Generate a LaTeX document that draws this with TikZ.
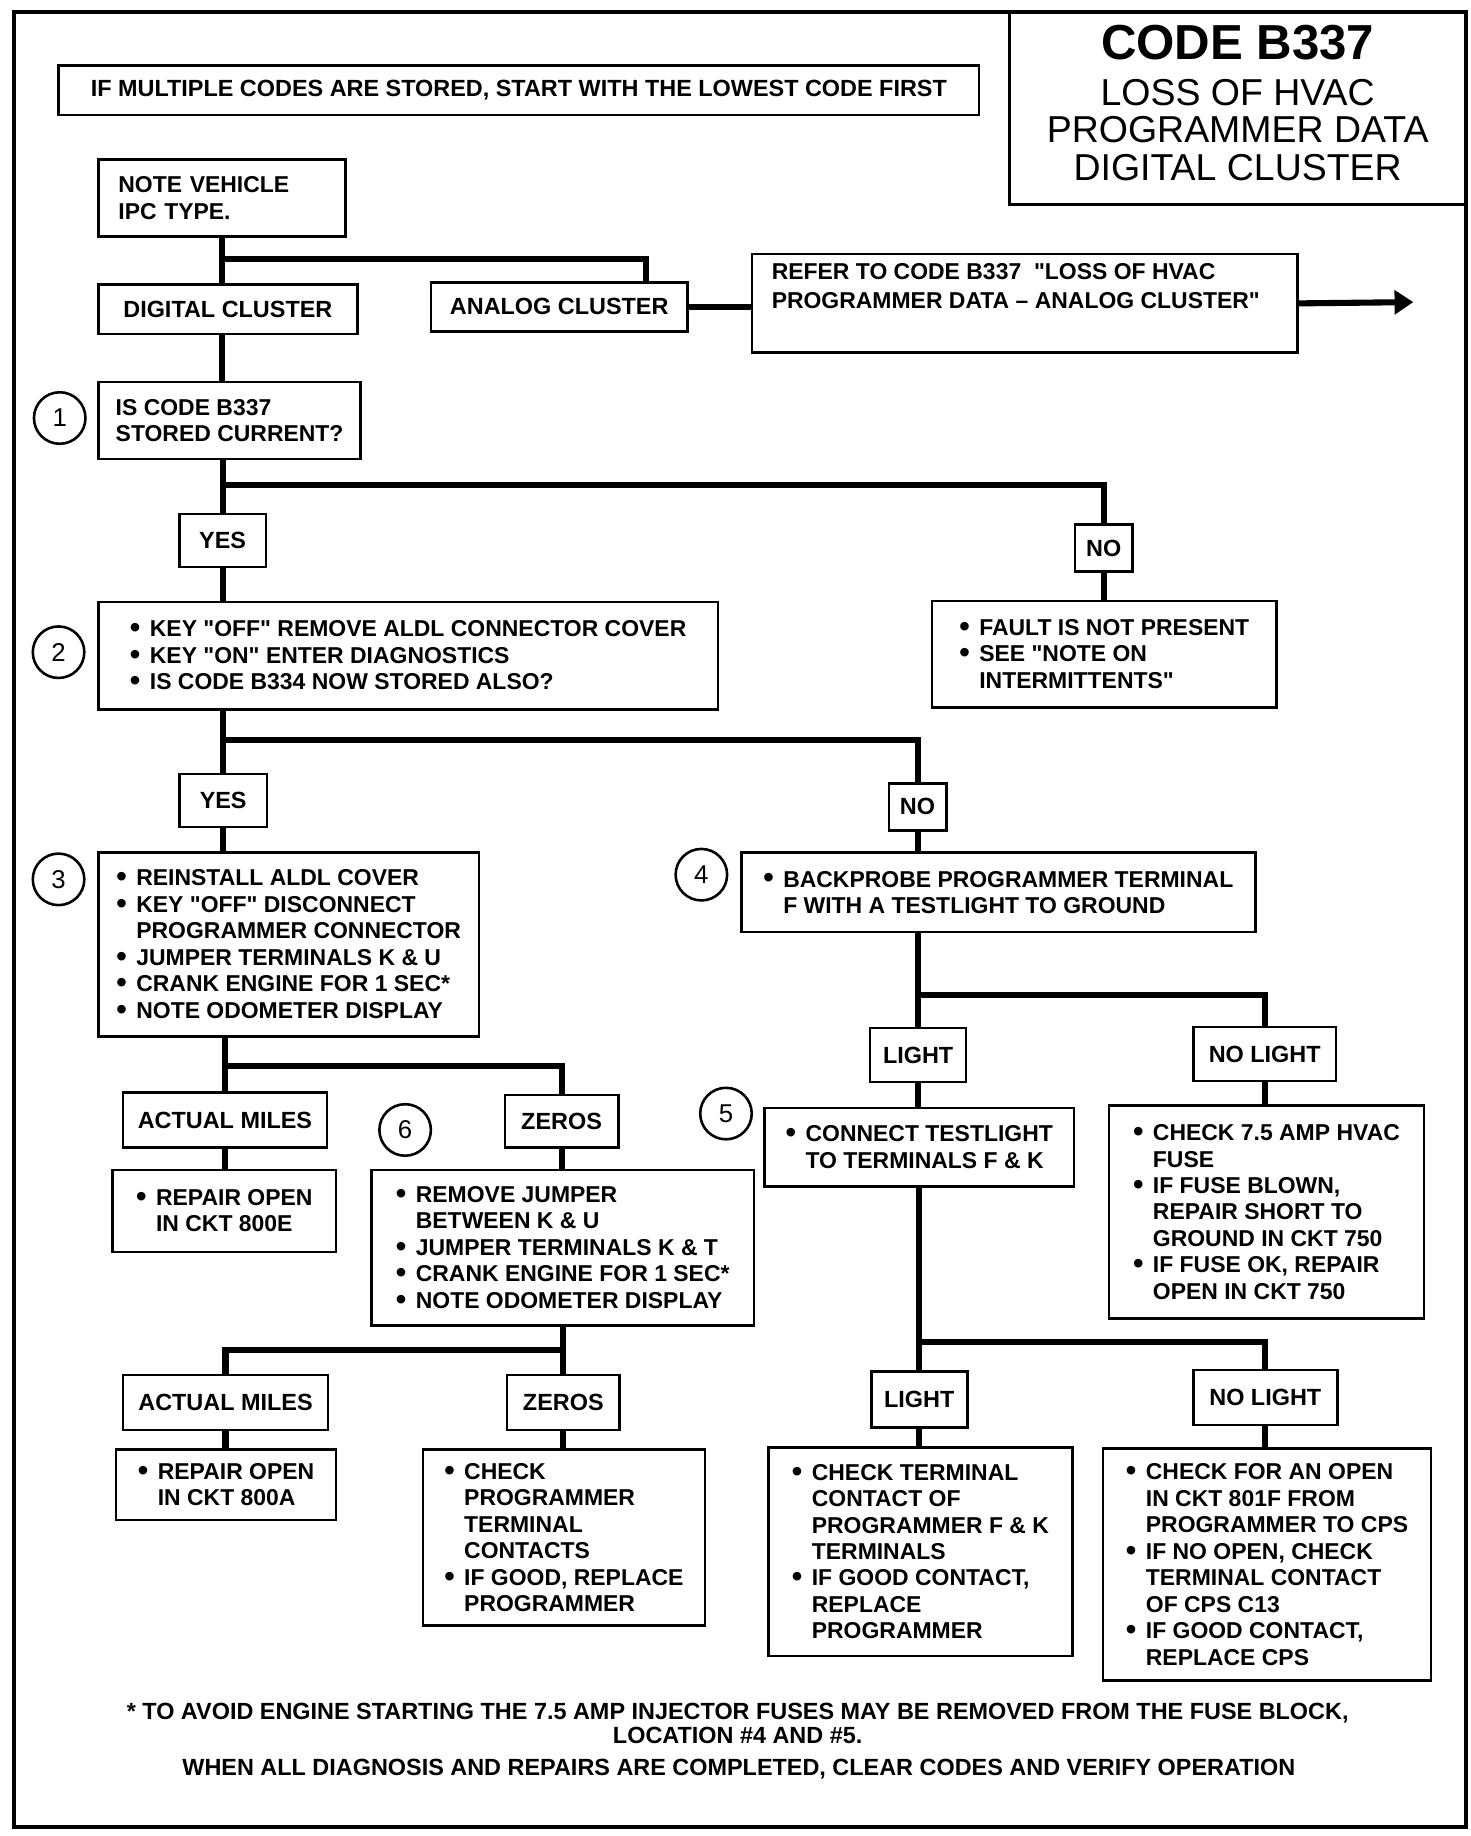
\documentclass[tikz,border=0pt]{standalone}
\usepackage{fontspec}
\usepackage{graphicx}
\setmainfont{Liberation Sans}
\usetikzlibrary{arrows.meta}
\newcommand\bul{\makebox[8.5pt][l]{\raisebox{-0.4pt}{\scalebox{1.3}{\textbullet}}}}
\newcommand\ind{\hspace*{8.5pt}}
\newcommand\qt{\textquotedbl}
\tikzset{
    frame/.style={line width=1.8pt},
    box/.style={draw, line width=1.1pt, anchor=north west, align=left, inner sep=0pt, font=\fontsize{9.8}{11.3}\selectfont\bfseries},
    tag/.style={draw, line width=1.1pt, anchor=north west, inner sep=0pt, font=\fontsize{10}{11.3}\selectfont\bfseries},
    wire/.style={line width=2.6pt},
    stepnum/.style={circle, draw, line width=1.1pt, minimum size=22pt, inner sep=0pt, font=\fontsize{11}{11}\selectfont},
}
\begin{document}
\begin{tikzpicture}[x=0.5pt,y=-0.5pt]
                \useasboundingbox (0,0) rectangle (1256,1568);
                \draw[frame] (12,10) rectangle (1252,1560);
                \draw[line width=1.3pt] (862,10) rectangle (1252,175);
                \node[font=\fontsize{21}{21}\selectfont\bfseries] (tcode) at (1057,36) {CODE B337};
                \node[align=center, font=\fontsize{16}{16}\selectfont] (tsub) at (1057,111) {LOSS OF HVAC\\PROGRAMMER DATA\\DIGITAL CLUSTER};
                \node[box, align=center, minimum width=393pt, minimum height=21pt, font=\fontsize{10}{11.3}\selectfont\bfseries] (first) at (49,55) {IF MULTIPLE CODES ARE STORED, START WITH THE LOWEST CODE FIRST};
                \node[box, text width=88.5pt, inner xsep=8.5pt, minimum height=33pt] (note) at (83,135) {NOTE VEHICLE\\IPC TYPE.};
                \node[tag, minimum width=110.5pt, minimum height=21pt] (digital) at (83,242) {DIGITAL CLUSTER};
                \node[tag, minimum width=109.5pt, minimum height=21pt] (analog) at (367,240) {ANALOG CLUSTER};
                \node[box, minimum width=233pt, minimum height=42pt] (refer) at (641,216) {\parbox[c][34pt][t]{216pt}{\baselineskip=12.5pt REFER TO CODE B337\ \ \qt LOSS OF HVAC\\PROGRAMMER DATA -- ANALOG CLUSTER\qt}};
                \node[box, minimum width=112pt, minimum height=33pt] (q1) at (83,325) {IS CODE B337\\STORED CURRENT?};
                \node[tag, minimum width=37pt, minimum height=22.5pt] (yesA) at (152,438) {YES};
                \node[tag, minimum width=24.5pt, minimum height=20pt] (noA) at (917,447) {NO};
                \node[box, minimum width=264.5pt, minimum height=46pt] (q2) at (83,513) {\bul KEY \qt OFF\qt\ REMOVE ALDL CONNECTOR COVER\\\bul KEY \qt ON\qt\ ENTER DIAGNOSTICS\\\bul IS CODE B334 NOW STORED ALSO?};
                \node[box, minimum width=147pt, minimum height=45.5pt] (fault) at (795,512) {\bul FAULT IS NOT PRESENT\\\bul SEE \qt NOTE ON\\\ind INTERMITTENTS\qt};
                \node[tag, minimum width=37.5pt, minimum height=22.5pt] (yesB) at (152,660) {YES};
                \node[tag, minimum width=24.5pt, minimum height=20pt] (noB) at (758,668) {NO};
                \node[box, minimum width=162.5pt, minimum height=78.5pt] (s3) at (83,727) {\bul REINSTALL ALDL COVER\\\bul KEY \qt OFF\qt\ DISCONNECT\\\ind PROGRAMMER CONNECTOR\\\bul JUMPER TERMINALS K \& U\\\bul CRANK ENGINE FOR 1 SEC*\\\bul NOTE ODOMETER DISPLAY};
                \node[box, minimum width=219.5pt, minimum height=34pt] (s4) at (632,727) {\bul BACKPROBE PROGRAMMER TERMINAL\\\ind F WITH A TESTLIGHT TO GROUND};
                \node[tag, minimum width=87pt, minimum height=23.5pt] (milesA) at (104,932) {ACTUAL MILES};
                \node[tag, minimum width=48.5pt, minimum height=22.5pt] (zerosA) at (430,934) {ZEROS};
                \node[box, minimum width=95.5pt, minimum height=35pt] (open800E) at (95,998) {\bul REPAIR OPEN\\\ind IN CKT 800E};
                \node[box, minimum width=163.5pt, minimum height=66.5pt] (s6) at (316,998) {\bul REMOVE JUMPER\\\ind BETWEEN K \& U\\\bul JUMPER TERMINALS K \& T\\\bul CRANK ENGINE FOR 1 SEC*\\\bul NOTE ODOMETER DISPLAY};
                \node[tag, minimum width=87.5pt, minimum height=23.5pt] (milesB) at (104,1173) {ACTUAL MILES};
                \node[tag, minimum width=48pt, minimum height=23.5pt] (zerosB) at (432,1173) {ZEROS};
                \node[box, minimum width=94pt, minimum height=30pt] (open800A) at (98,1237) {\bul REPAIR OPEN\\\ind IN CKT 800A};
                \node[box, minimum width=120.5pt, minimum height=75pt] (checkprog) at (360,1237) {\bul CHECK\\\ind PROGRAMMER\\\ind TERMINAL\\\ind CONTACTS\\\bul IF GOOD, REPLACE\\\ind PROGRAMMER};
                \node[tag, minimum width=41pt, minimum height=23pt] (lightA) at (742,877) {LIGHT};
                \node[tag, minimum width=61pt, minimum height=23pt] (nolightA) at (1018,876) {NO LIGHT};
                \node[box, minimum width=132pt, minimum height=33.5pt] (s5) at (652,945) {\bul CONNECT TESTLIGHT\\\ind TO TERMINALS F \& K};
                \node[box, minimum width=134.5pt, minimum height=91pt] (fuse) at (946,943) {\bul CHECK 7.5 AMP HVAC\\\ind FUSE\\\bul IF FUSE BLOWN,\\\ind REPAIR SHORT TO\\\ind GROUND IN CKT 750\\\bul IF FUSE OK, REPAIR\\\ind OPEN IN CKT 750};
                \node[tag, minimum width=41pt, minimum height=24pt] (lightB) at (743,1170) {LIGHT};
                \node[tag, minimum width=61.5pt, minimum height=23.5pt] (nolightB) at (1018,1169) {NO LIGHT};
                \node[box, minimum width=130pt, minimum height=89pt] (checkterm) at (655,1235) {\bul CHECK TERMINAL\\\ind CONTACT OF\\\ind PROGRAMMER F \& K\\\ind TERMINALS\\\bul IF GOOD CONTACT,\\\ind REPLACE\\\ind PROGRAMMER};
                \node[box, minimum width=140pt, minimum height=99pt] (checkopen) at (941,1236) {\bul CHECK FOR AN OPEN\\\ind IN CKT 801F FROM\\\ind PROGRAMMER TO CPS\\\bul IF NO OPEN, CHECK\\\ind TERMINAL CONTACT\\\ind OF CPS C13\\\bul IF GOOD CONTACT,\\\ind REPLACE CPS};
                \node[stepnum] (c1) at (51,357) {1};
                \node[stepnum] (c2) at (50,557) {2};
                \node[stepnum] (c3) at (50,751) {3};
                \node[stepnum] (c4) at (599,747) {4};
                \node[stepnum] (c5) at (620,951) {5};
                \node[stepnum] (c6) at (346,965) {6};
                \node[align=center, font=\fontsize{10}{10.5}\selectfont\bfseries] (foot) at (630,1472) {* TO AVOID ENGINE STARTING THE 7.5 AMP INJECTOR FUSES MAY BE REMOVED FROM THE FUSE BLOCK,\\LOCATION \#4 AND \#5.};
                \node[font=\fontsize{10}{10.5}\selectfont\bfseries] (final) at (631,1511) {WHEN ALL DIAGNOSIS AND REPAIRS ARE COMPLETED, CLEAR CODES AND VERIFY OPERATION};
                \coordinate (j0) at (note.south |- 0,221);
                \coordinate (adrop) at (552,221);
                \coordinate (exit) at (1207,258);
                \coordinate (j1) at (yesA.north |- 0,414);
                \coordinate (j2) at (yesB.north |- 0,632);
                \coordinate (j3) at (milesA.north |- 0,910);
                \coordinate (j6) at (zerosB.north |- 0,1153);
                \coordinate (j4) at (lightA.north |- 0,850);
                \coordinate (j5) at (lightB.north |- 0,1146);
                \draw[wire] (note.south) -- (note.south |- digital.north);
                \draw[wire] (j0) -- (adrop) -- (adrop |- analog.north);
                \draw[wire] (analog.east) -- (analog.east -| refer.west);
                \draw[wire, -{Triangle[length=8pt,width=10pt]}] (refer.east) -- (exit);
                \draw[wire] (digital.south -| note.south) -- (q1.north -| note.south);
                \draw[wire] (q1.south -| yesA.north) -- (yesA.north);
                \draw[wire] (j1) -| (noA.north);
                \draw[wire] (yesA.south) -- (yesA.south |- q2.north);
                \draw[wire] (noA.south) -- (noA.south |- fault.north);
                \draw[wire] (q2.south -| yesB.north) -- (yesB.north);
                \draw[wire] (j2) -| (noB.north);
                \draw[wire] (yesB.south) -- (yesB.south |- s3.north);
                \draw[wire] (noB.south) -- (noB.south |- s4.north);
                \draw[wire] (s3.south -| milesA.north) -- (milesA.north);
                \draw[wire] (j3) -| (zerosA.north);
                \draw[wire] (milesA.south) -- (milesA.south |- open800E.north);
                \draw[wire] (zerosA.south) -- (zerosA.south |- s6.north);
                \draw[wire] (s6.south -| zerosB.north) -- (zerosB.north);
                \draw[wire] (j6) -| (milesB.north);
                \draw[wire] (milesB.south) -- (milesB.south |- open800A.north);
                \draw[wire] (zerosB.south) -- (zerosB.south |- checkprog.north);
                \draw[wire] (s4.south -| lightA.north) -- (lightA.north);
                \draw[wire] (j4) -| (nolightA.north);
                \draw[wire] (lightA.south) -- (lightA.south |- s5.north);
                \draw[wire] (nolightA.south) -- (nolightA.south |- fuse.north);
                \draw[wire] (s5.south -| lightB.north) -- (lightB.north);
                \draw[wire] (j5) -| (nolightB.north);
                \draw[wire] (lightB.south) -- (lightB.south |- checkterm.north);
                \draw[wire] (nolightB.south) -- (nolightB.south |- checkopen.north);
\end{tikzpicture}
\end{document}
